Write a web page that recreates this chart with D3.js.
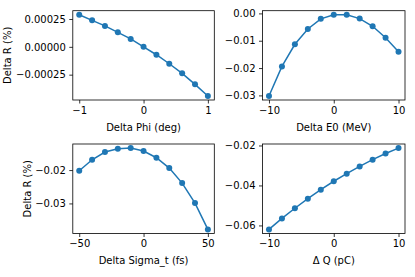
<!DOCTYPE html>
<style>
body { margin: 0; background: #fff; }
svg text { font-family: "DejaVu Sans", sans-serif; }
.axis .domain { display: none; }
</style>
<svg width="415" height="277"></svg>
<script src="https://d3js.org/d3.v7.min.js"></script>
<script>

var phiX = [-1, -0.8, -0.6, -0.4, -0.2, 0, 0.2, 0.4, 0.6, 0.8, 1];
var phiY = [0.000288, 0.000238, 0.000188, 0.000130, 0.000071, 0, -0.000071, -0.000152, -0.000238, -0.000337, -0.000441];

var e0X = [-10, -8, -6, -4, -2, 0, 2, 4, 6, 8, 10];
var e0Y = [-0.0302, -0.0194, -0.0113, -0.0057, -0.0020, -0.0005, -0.0005, -0.0019, -0.0047, -0.0089, -0.0140];

var sigX = [-50, -40, -30, -20, -10, 0, 10, 20, 30, 40, 50];
var sigY = [-0.0202, -0.0169, -0.0146, -0.0136, -0.0134, -0.0143, -0.0163, -0.0194, -0.0239, -0.0299, -0.0378];

var qX = [-10, -8, -6, -4, -2, 0, 2, 4, 6, 8, 10];
var qY = [-0.0620, -0.0565, -0.0514, -0.0466, -0.0421, -0.0379, -0.0341, -0.0305, -0.0271, -0.0240, -0.0213];

var xTicks1 = [-1, 0, 1], yTicks1 = [0.00025, 0, -0.00025];
var xTicks2 = [-10, 0, 10], yTicks2 = [0, -0.01, -0.02, -0.03];
var xTicks3 = [-50, 0, 50], yTicks3 = [-0.02, -0.03];
var xTicks4 = [-10, 0, 10], yTicks4 = [-0.02, -0.04, -0.06];

var panels = [
  {x: phiX, y: phiY, xt: xTicks1, yt: yTicks1, yd: 5, xlab: "Delta Phi (deg)", ylab: "Delta R (%)", lx: 10.5, box: [72.8, 10.7, 214.3, 100]},
  {x: e0X, y: e0Y, xt: xTicks2, yt: yTicks2, yd: 2, xlab: "Delta E0 (MeV)", ylab: null, box: [262.5, 10.7, 405, 100]},
  {x: sigX, y: sigY, xt: xTicks3, yt: yTicks3, yd: 2, xlab: "Delta Sigma_t (fs)", ylab: "Delta R (%)", lx: 31, box: [72.8, 144, 214.3, 233.5]},
  {x: qX, y: qY, xt: xTicks4, yt: yTicks4, yd: 2, xlab: "\u0394 Q (pC)", ylab: null, box: [262.5, 144, 405, 233.5]}
];

var svg = d3.select("svg"),
    fs = 10,
    color = "#1f77b4";

function fmt(d, n) {
  var s = d3.format("." + n + "f")(Math.abs(d));
  return (d < 0 ? "\u2212" : "") + s;
}

function padded(a) {
  var e = d3.extent(a), p = (e[1] - e[0]) * 0.05;
  return [e[0] - p, e[1] + p];
}

panels.forEach(function(p) {
  var b = p.box;
  var x = d3.scaleLinear().domain(padded(p.x)).range([b[0], b[2]]);
  var y = d3.scaleLinear().domain(padded(p.y)).range([b[3], b[1]]);
  var g = svg.append("g");

  g.append("g")
      .attr("class", "axis")
      .attr("transform", "translate(0," + b[3] + ")")
      .attr("font-size", fs)
      .call(d3.axisBottom(x).tickValues(p.xt).tickSize(3.5).tickPadding(3.2)
        .tickFormat(function(d) { return fmt(d, 0); }));

  g.append("g")
      .attr("class", "axis")
      .attr("transform", "translate(" + b[0] + ",0)")
      .attr("font-size", fs)
      .call(d3.axisLeft(y).tickValues(p.yt).tickSize(3.5).tickPadding(3.5)
        .tickFormat(function(d) { return fmt(d, p.yd); }));

  g.selectAll(".axis text").attr("fill", "#000").attr("font-family", "DejaVu Sans");
  g.selectAll(".axis line").attr("stroke", "#000").attr("stroke-width", 0.8);

  var pts = p.x.map(function(v, i) { return [v, p.y[i]]; });

  g.append("path")
      .datum(pts)
      .attr("fill", "none")
      .attr("stroke", color)
      .attr("stroke-width", 1.5)
      .attr("d", d3.line().x(function(d) { return x(d[0]); }).y(function(d) { return y(d[1]); }));

  g.selectAll("circle")
      .data(pts)
      .enter().append("circle")
      .attr("cx", function(d) { return x(d[0]); })
      .attr("cy", function(d) { return y(d[1]); })
      .attr("r", 3)
      .attr("fill", color);

  g.append("rect")
      .attr("x", b[0]).attr("y", b[1])
      .attr("width", b[2] - b[0]).attr("height", b[3] - b[1])
      .attr("fill", "none")
      .attr("stroke", "#000")
      .attr("stroke-width", 0.8);

  g.append("text")
      .attr("x", (b[0] + b[2]) / 2)
      .attr("y", b[3] + 30.5)
      .attr("text-anchor", "middle")
      .attr("font-size", fs)
      .text(p.xlab);

  if (p.ylab) {
    g.append("text")
        .attr("transform", "translate(" + p.lx + "," + (b[1] + b[3]) / 2 + ") rotate(-90)")
        .attr("text-anchor", "middle")
        .attr("font-size", fs)
        .text(p.ylab);
  }
});

</script>
